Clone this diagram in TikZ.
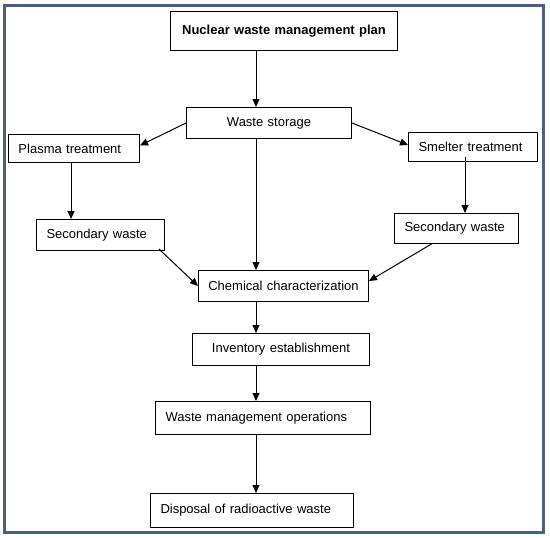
\documentclass[tikz,border=0pt]{standalone}
\usepackage{fontspec}
\setmainfont{Liberation Sans}
\usetikzlibrary{arrows.meta, positioning, calc}
\definecolor{cFrame}{RGB}{74,96,128}
\tikzset{
    stage/.style    ={rectangle, draw=black, line width=1pt, anchor=north west, inner xsep=10pt, inner ysep=0pt, align=left, font=\fontsize{13pt}{15pt}\selectfont},
    midstage/.style ={stage, align=center},
    flowarrow/.style={-{Triangle[length=8pt, width=7pt]}, line width=1pt},
}

\begin{document}
\begin{tikzpicture}[x=1pt, y=-1pt]
    \useasboundingbox (0,0) rectangle (550,538);
    \draw[cFrame, line width=3pt] (4.5,5) rectangle (543.5,532.5);
    \node[midstage, text width=207pt, minimum height=39pt, font=\fontsize{13pt}{15pt}\selectfont\bfseries] (plan) at (170,11) {Nuclear waste management plan};
    \node[midstage, text width=145pt, minimum height=31pt] (storage) at (186,107) {Waste storage};
    \node[stage, text width=111pt, minimum height=28pt] (plasma) at (8,134) {Plasma treatment};
    \node[stage, text width=109pt, minimum height=29pt] (smelter) at (408,132) {Smelter treatment};
    \node[stage, text width=108pt, minimum height=31pt] (secL) at (36,219) {Secondary waste};
    \node[stage, text width=104pt, minimum height=30pt] (secR) at (394,213) {Secondary waste};
    \node[midstage, inner xsep=4pt, text width=162pt, minimum height=31pt] (chem) at (198,270) {Chemical characterization};
    \node[midstage, text width=157pt, minimum height=32pt] (inventory) at (192,333) {Inventory establishment};
    \node[stage, text width=195pt, minimum height=33pt] (ops) at (155,401) {Waste management operations};
    \node[stage, text width=183pt, minimum height=34pt] (disposal) at (150,493) {Disposal of radioactive waste};
    \coordinate (axis) at (256,0);
    % main line
    \draw[flowarrow] (plan.south -| axis) -- (storage.north -| axis);
    \draw[flowarrow] (storage.south -| axis) -- (chem.north -| axis);
    \draw[flowarrow] (chem.south -| axis) -- (inventory.north -| axis);
    \draw[flowarrow] (inventory.south -| axis) -- (ops.north -| axis);
    \draw[flowarrow] (ops.south -| axis) -- (disposal.north -| axis);
    % side branches
    \draw[flowarrow] (storage.west) -- ([yshift=3pt]plasma.east);
    \draw[flowarrow] (storage.east) -- ([yshift=2pt]smelter.west);
    \draw[flowarrow] ([xshift=-3pt]plasma.south) -- ([xshift=-3pt]plasma.south |- secL.north);
    \draw[flowarrow] ([xshift=-8pt, yshift=5pt]smelter.south) -- ([xshift=-8pt]smelter.south |- secR.north);
    \draw[flowarrow] ([xshift=-6pt, yshift=2pt]secL.south east) -- (chem.west);
    \draw[flowarrow] ([xshift=-25pt]secR.south) -- ([yshift=5pt]chem.east);
\end{tikzpicture}
\end{document}
